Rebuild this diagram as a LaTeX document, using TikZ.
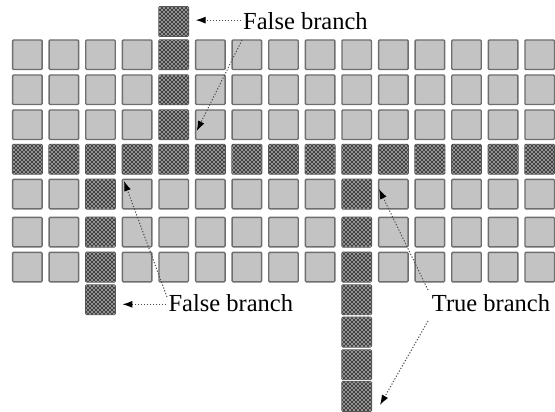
\documentclass[tikz,border=0pt]{standalone}
\usepackage{fontspec}
\setmainfont{Liberation Serif}
\usetikzlibrary{arrows.meta,patterns}
\pgfdeclarepatternformonly{celldots}{\pgfpoint{-1.2pt}{-1.2pt}}{\pgfpoint{5.2pt}{5.2pt}}{\pgfpoint{4pt}{4pt}}{%
  \pgfpathcircle{\pgfpoint{0pt}{0pt}}{1.05pt}%
  \pgfpathcircle{\pgfpoint{2pt}{2pt}}{1.05pt}%
  \pgfusepath{fill}}
\definecolor{cellfill}{HTML}{C3C3C3}
\definecolor{cellline}{HTML}{6E6E6E}
\definecolor{hatchbg}{HTML}{404040}
\definecolor{hatchline}{HTML}{505050}
\definecolor{dotcol}{HTML}{B0B0B0}
\definecolor{arrline}{HTML}{4A4A4A}
\tikzset{
  cell/.style={draw=cellline, fill=cellfill, line width=1.4pt, rounded corners=1pt,
    minimum width=29.5pt, minimum height=29.5pt, inner sep=0pt},
  hcell/.style={cell, draw=hatchline, fill=hatchbg,
    postaction={pattern=celldots, pattern color=dotcol}},
  lbl/.style={font=\fontsize{24.5}{28}\selectfont, inner sep=0pt, anchor=base west},
  arr/.style={draw=arrline, line width=1pt, dash pattern=on 1.2pt off 1.8pt,
    -{Latex[length=10pt,width=7pt,black]}},
}
\begin{document}
\begin{tikzpicture}[x=1pt,y=-1pt]
\useasboundingbox (0,0) rectangle (555,412);
% main grid
\foreach \r/\y in {0/40,1/75,2/110,3/144.5,4/179.3,5/217.3,6/252.3}{
  \foreach \c in {0,...,14}{
    \pgfmathtruncatemacro\h{(\r==3) || (\c==4 && \r<3) || ((\c==2 || \c==9) && \r>3)}
    \ifnum\h=1 \def\st{hcell}\else\def\st{cell}\fi
    \node[\st] (c-\r-\c) at (27.3+36.6*\c, \y+14.75) {};
  }
}
% extra cells
\node[hcell] (e-top) at (27.3+36.6*4, 21.5) {};
\node[hcell] (e-left) at (27.3+36.6*2, 299.75) {};
\foreach \i/\y in {1/285,2/317.3,3/350,4/381.7}{
  \node[hcell] (e-r\i) at (27.3+36.6*9, \y+14.75) {};
}
% labels
\node[lbl] (f1) at (243,30) {False branch};
\node[lbl] (f2) at (168.3,311.7) {False branch};
\node[lbl] (t1) at (431.7,311.7) {True branch};
% connector ends
\coordinate (d1s) at (242,40);
\coordinate (d1t) at (196.7,131);
\coordinate (d2s) at (167,297);
\coordinate (d2t) at (124,181);
\coordinate (d3s) at (428,290);
\coordinate (d3t) at (379,189);
\coordinate (d4s) at (428,321);
\coordinate (d4t) at (380,405);
% connectors
\draw[arr, shorten >=6.5pt] ([xshift=-2pt,yshift=1.5pt]f1.west) -- ([yshift=1.5pt]e-top.east |- f1.west);
\draw[arr] (d1s) -- (d1t);
\draw[arr, shorten >=6.5pt] ([xshift=-2pt,yshift=-1pt]f2.west) -- ([yshift=-1pt]e-left.east |- f2.west);
\draw[arr] (d2s) -- (d2t);
\draw[arr] (d3s) -- (d3t);
\draw[arr] (d4s) -- (d4t);
\end{tikzpicture}
\end{document}
